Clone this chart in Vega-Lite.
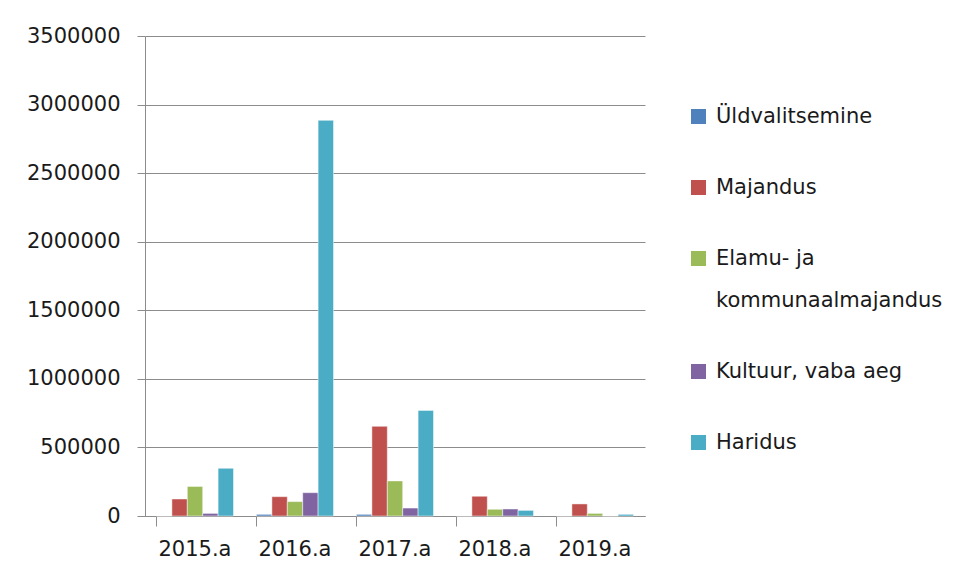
{
  "$schema": "https://vega.github.io/schema/vega-lite/v6.json",
  "autosize": {"type": "none"},
  "width": 500,
  "height": 480,
  "padding": {"left": 145, "top": 36, "right": 315, "bottom": 62},
  "background": "#ffffff",
  "config": {
    "view": {"stroke": null},
    "font": "DejaVu Sans",
    "style": {"guide-label": {"lineHeight": 42}},
    "axis": {"labelFont": "DejaVu Sans", "labelFontSize": 21, "labelColor": "#1a1a1a", "domainColor": "#8c8c8c", "tickColor": "#8c8c8c", "gridColor": "#8c8c8c", "domainWidth": 1, "tickWidth": 1, "gridWidth": 1}
  },
  "data": {
    "values": [
      {"aasta": "2015.a", "valdkond": "Üldvalitsemine", "summa": 0},
      {"aasta": "2015.a", "valdkond": "Majandus", "summa": 124000},
      {"aasta": "2015.a", "valdkond": "Elamu- ja kommunaalmajandus", "summa": 216000},
      {"aasta": "2015.a", "valdkond": "Kultuur, vaba aeg", "summa": 19000},
      {"aasta": "2015.a", "valdkond": "Haridus", "summa": 348000},
      {"aasta": "2016.a", "valdkond": "Üldvalitsemine", "summa": 12000},
      {"aasta": "2016.a", "valdkond": "Majandus", "summa": 141000},
      {"aasta": "2016.a", "valdkond": "Elamu- ja kommunaalmajandus", "summa": 105000},
      {"aasta": "2016.a", "valdkond": "Kultuur, vaba aeg", "summa": 170000},
      {"aasta": "2016.a", "valdkond": "Haridus", "summa": 2885000},
      {"aasta": "2017.a", "valdkond": "Üldvalitsemine", "summa": 12000},
      {"aasta": "2017.a", "valdkond": "Majandus", "summa": 654000},
      {"aasta": "2017.a", "valdkond": "Elamu- ja kommunaalmajandus", "summa": 256000},
      {"aasta": "2017.a", "valdkond": "Kultuur, vaba aeg", "summa": 58000},
      {"aasta": "2017.a", "valdkond": "Haridus", "summa": 770000},
      {"aasta": "2018.a", "valdkond": "Üldvalitsemine", "summa": 0},
      {"aasta": "2018.a", "valdkond": "Majandus", "summa": 144000},
      {"aasta": "2018.a", "valdkond": "Elamu- ja kommunaalmajandus", "summa": 49000},
      {"aasta": "2018.a", "valdkond": "Kultuur, vaba aeg", "summa": 51000},
      {"aasta": "2018.a", "valdkond": "Haridus", "summa": 41000},
      {"aasta": "2019.a", "valdkond": "Üldvalitsemine", "summa": 0},
      {"aasta": "2019.a", "valdkond": "Majandus", "summa": 88000},
      {"aasta": "2019.a", "valdkond": "Elamu- ja kommunaalmajandus", "summa": 19000},
      {"aasta": "2019.a", "valdkond": "Kultuur, vaba aeg", "summa": 0},
      {"aasta": "2019.a", "valdkond": "Haridus", "summa": 12000}
    ]
  },
  "mark": {"type": "bar", "stroke": "#ffffff", "strokeOpacity": 0.6, "strokeWidth": 0.8},
  "encoding": {
    "x": {
      "field": "aasta", "type": "nominal", "title": null,
      "scale": {"paddingInner": 0.23, "paddingOuter": 0.115},
      "axis": {"labelAngle": 0, "bandPosition": 0, "tickSize": 10, "labelPadding": 12, "grid": false, "ticks": true}
    },
    "xOffset": {
      "field": "valdkond", "type": "nominal",
      "sort": ["Üldvalitsemine", "Majandus", "Elamu- ja kommunaalmajandus", "Kultuur, vaba aeg", "Haridus"],
      "scale": {"paddingInner": 0, "paddingOuter": 0}
    },
    "y": {
      "field": "summa", "type": "quantitative", "title": null,
      "scale": {"domain": [0, 3500000], "nice": false},
      "axis": {"values": [0, 500000, 1000000, 1500000, 2000000, 2500000, 3000000, 3500000], "format": "d", "tickSize": 8, "labelPadding": 17, "grid": true}
    },
    "color": {
      "field": "valdkond", "type": "nominal", "title": null,
      "sort": ["Üldvalitsemine", "Majandus", "Elamu- ja kommunaalmajandus", "Kultuur, vaba aeg", "Haridus"],
      "scale": {
        "domain": ["Üldvalitsemine", "Majandus", "Elamu- ja kommunaalmajandus", "Kultuur, vaba aeg", "Haridus"],
        "range": ["#4F81BD", "#C0504D", "#9BBB59", "#8064A2", "#4BACC6"]
      },
      "legend": {
        "orient": "none", "legendX": 543, "legendY": 70,
        "symbolType": "square", "symbolSize": 225, "symbolStrokeWidth": 0,
        "labelFont": "DejaVu Sans", "labelFontSize": 21, "labelColor": "#1a1a1a", "labelLimit": 400,
        "labelOffset": 7, "rowPadding": 49,
        "labelExpr": "datum.label == 'Elamu- ja kommunaalmajandus' ? ['Elamu- ja', 'kommunaalmajandus'] : datum.label"
      }
    }
  }
}
